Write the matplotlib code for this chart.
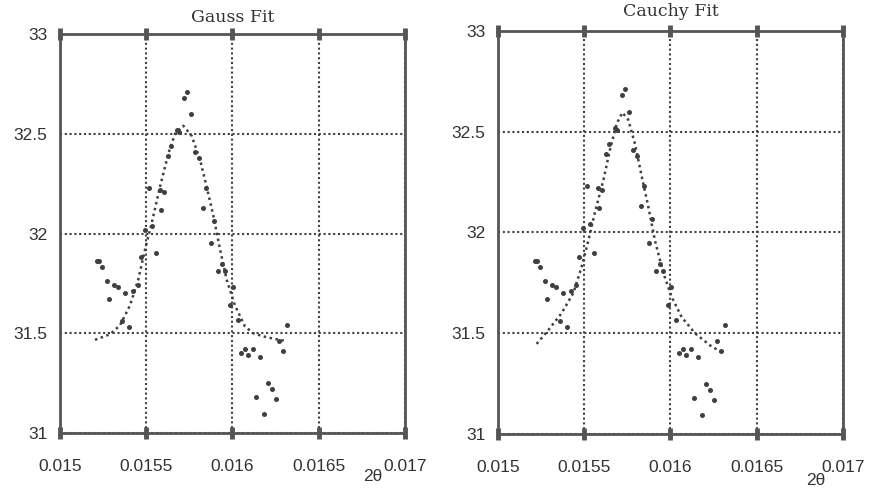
import numpy as np
import matplotlib.pyplot as plt

# measured points (same data in both panels)
two_theta = [0.015213, 0.015228, 0.015245, 0.015270, 0.015286, 0.015313, 0.015334,
             0.015357, 0.015379, 0.015400, 0.015425, 0.015450, 0.015470, 0.015495,
             0.015516, 0.015531, 0.015557, 0.015580, 0.015584, 0.015603, 0.015624,
             0.015643, 0.015676, 0.015692, 0.015719, 0.015738, 0.015759, 0.015783,
             0.015808, 0.015831, 0.015846, 0.015873, 0.015894, 0.015916, 0.015941,
             0.015958, 0.015986, 0.016001, 0.016030, 0.016049, 0.016072, 0.016091,
             0.016117, 0.016136, 0.016159, 0.016183, 0.016208, 0.016227, 0.016252,
             0.016271, 0.016295, 0.016314]
intensity = [31.86, 31.86, 31.83, 31.76, 31.67, 31.74, 31.73,
             31.56, 31.70, 31.53, 31.71, 31.74, 31.88, 32.02,
             32.23, 32.04, 31.90, 32.22, 32.12, 32.21, 32.39,
             32.44, 32.52, 32.51, 32.68, 32.71, 32.60, 32.41,
             32.38, 32.13, 32.23, 31.95, 32.065, 31.81, 31.845,
             31.81, 31.64, 31.73, 31.565, 31.40, 31.42, 31.39,
             31.42, 31.18, 31.38, 31.095, 31.25, 31.22, 31.17,
             31.46, 31.41, 31.54]

# fit curves
gauss_x = [0.015203, 0.015290, 0.015348, 0.015406, 0.015454, 0.015493, 0.015531,
           0.015580, 0.015628, 0.015667, 0.015715, 0.015763, 0.015812, 0.015850,
           0.015889, 0.015928, 0.015966, 0.016014, 0.016072, 0.016120, 0.016198,
           0.016314]
gauss_y = [31.467, 31.495, 31.54, 31.64, 31.77, 31.92, 32.05,
           32.235, 32.40, 32.50, 32.54, 32.49, 32.37, 32.235,
           32.09, 31.92, 31.77, 31.64, 31.535, 31.50, 31.48,
           31.46]

cauchy_x = [0.015224, 0.015292, 0.015369, 0.015437, 0.015485, 0.015524, 0.015562,
            0.015611, 0.015649, 0.015688, 0.015721, 0.015755, 0.015794, 0.015833,
            0.015871, 0.015910, 0.015958, 0.016007, 0.016065, 0.016142, 0.016229,
            0.016306]
cauchy_y = [31.447, 31.516, 31.60, 31.70, 31.83, 31.96, 32.10,
            32.26, 32.41, 32.54, 32.595, 32.56, 32.44, 32.28,
            32.13, 31.96, 31.80, 31.68, 31.58, 31.50, 31.44,
            31.40]

xticks = [0.015, 0.0155, 0.016, 0.0165, 0.017]
xtick_labels = ['0.015', '0.0155', '0.016', '0.0165', '0.017']
yticks = [31, 31.5, 32, 32.5, 33]
ytick_labels = ['31', '31.5', '32', '32.5', '33']

ink = '#404040'
tick_font = ['Liberation Sans', 'DejaVu Sans']

fig = plt.figure(figsize=(8.72, 4.91), dpi=100)
ax1 = fig.add_axes([0.0688, 0.1181, 0.3956, 0.8126])
ax2 = fig.add_axes([0.5711, 0.1161, 0.3956, 0.8208])

panels = [(ax1, 'Gauss Fit', gauss_x, gauss_y, 9),
          (ax2, 'Cauchy Fit', cauchy_x, cauchy_y, 11)]

for ax, title, fx, fy, pad in panels:
    ax.scatter(two_theta, intensity, s=13, color=ink, zorder=3, linewidths=0)
    ax.plot(fx, fy, linestyle=(0, (1, 1.4)), color=ink, linewidth=1.8, zorder=2)
    ax.set_xlim(0.015, 0.017)
    ax.set_ylim(31, 33)
    ax.set_xticks(xticks)
    ax.set_xticklabels(xtick_labels, family=tick_font, fontsize=12.5, color='#333333')
    ax.set_yticks(yticks)
    ax.set_yticklabels(ytick_labels, family=tick_font, fontsize=12.5, color='#333333')
    ax.grid(True, linestyle=(0, (1, 1.3)), color=ink, linewidth=1.5)
    ax.tick_params(axis='x', direction='inout', length=8, width=3.5, color='#555555',
                   top=True, pad=15)
    ax.tick_params(axis='y', length=0, pad=9)
    for sp in ax.spines.values():
        sp.set_color('#555555')
        sp.set_linewidth(2)
    ax.set_title(title, family=['DejaVu Serif'], fontsize=12.5, color='#333333', pad=pad)

fig.text(0.428, 0.029, '2θ', family=tick_font, fontsize=12.5, color='#333333',
         ha='center', va='center')
fig.text(0.936, 0.022, '2θ', family=tick_font, fontsize=12.5, color='#333333',
         ha='center', va='center')

fig.savefig('out.png', dpi=100, facecolor='white')
